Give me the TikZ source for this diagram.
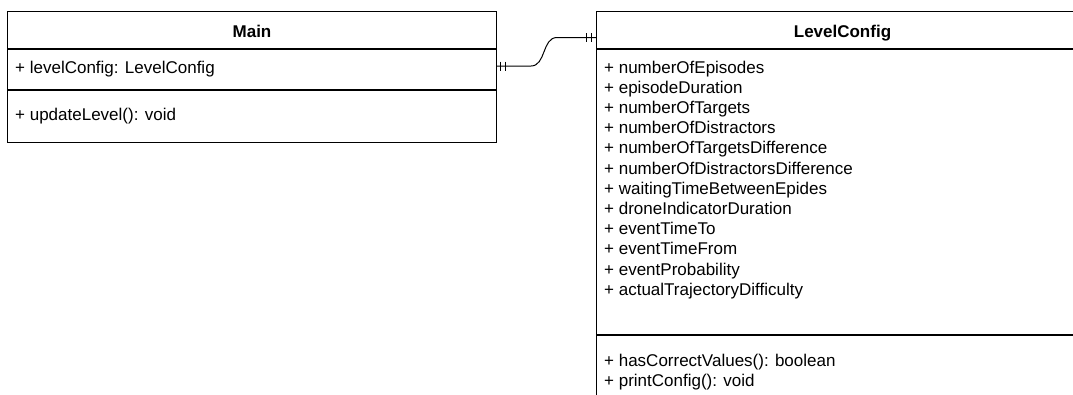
\documentclass[tikz,border=0pt]{standalone}
\usepackage{fontspec}
\setmainfont{Liberation Sans}
\usetikzlibrary{positioning,calc}

\begin{document}
\begin{tikzpicture}[
  x=1pt, y=-1pt,
  every node/.style={font=\fontsize{17}{20.2}\selectfont},
  part/.style={draw=black,line width=1pt,rectangle,inner sep=0pt,anchor=north},
  head/.style={part,font=\fontsize{17}{20.2}\selectfont\bfseries,text height=15pt,text depth=0pt},
  member/.style={anchor=base west,inner sep=0pt},
  link/.style={draw=black,line width=1pt},
  tick/.style={link}
]
\useasboundingbox (0,0) rectangle (1073,394);
\clip (0,0) rectangle (1073,394);

% class Main
\node[head,anchor=north west,minimum width=489pt,minimum height=37pt] (mainhead) at (7,11) {Main};
\node[part,below=0pt of mainhead,minimum width=489pt,minimum height=40pt] (mainattrs) {};
\node[part,below=0pt of mainattrs,minimum width=489pt,minimum height=52pt] (mainops) {};
\node[member] (mainattr1) at ($(mainattrs.north west)+(8,24)$) {+ levelConfig: LevelConfig};
\node[member] (mainop1) at ($(mainops.north west)+(8,30)$) {+ updateLevel(): void};

% class LevelConfig (runs past the edge)
\node[head,anchor=north west,minimum width=492pt,minimum height=37pt] (lchead) at (596,11) {LevelConfig};
\node[part,below=0pt of lchead,minimum width=492pt,minimum height=285pt] (lcattrs) {};
\node[part,below=0pt of lcattrs,minimum width=492pt,minimum height=80pt] (lcops) {};
\foreach \name [count=\i] in {numberOfEpisodes,episodeDuration,numberOfTargets,numberOfDistractors,
  numberOfTargetsDifference,numberOfDistractorsDifference,waitingTimeBetweenEpides,
  droneIndicatorDuration,eventTimeTo,eventTimeFrom,eventProbability,actualTrajectoryDifficulty}
  \node[member] (lcattr\i) at ($(lcattrs.north west)+(8,{24+20.2*(\i-1)})$) {+ \name};
\node[member] (lcop1) at ($(lcops.north west)+(8,31)$) {+ hasCorrectValues(): boolean};
\node[member] (lcop2) at ($(lcops.north west)+(8,51)$) {+ printConfig(): void};

% one-to-one link
\coordinate (src) at ($(mainattrs.east)+(0,-3.5)$);
\coordinate (dst) at ($(lchead.west)+(0,7.5)$);
\draw[link] (src) -- ($(src)+(34,0)$) .. controls +(15,0) and +(-15,0) .. ($(dst)+(-39,0)$) -- (dst);
\foreach \dx in {3.5,8.5}
  \draw[tick] ($(src)+(\dx,-4.5)$) -- ++(0,9);
\foreach \dx in {4.5,9.5}
  \draw[tick] ($(dst)+(-\dx,-4.5)$) -- ++(0,9);
\end{tikzpicture}
\end{document}
